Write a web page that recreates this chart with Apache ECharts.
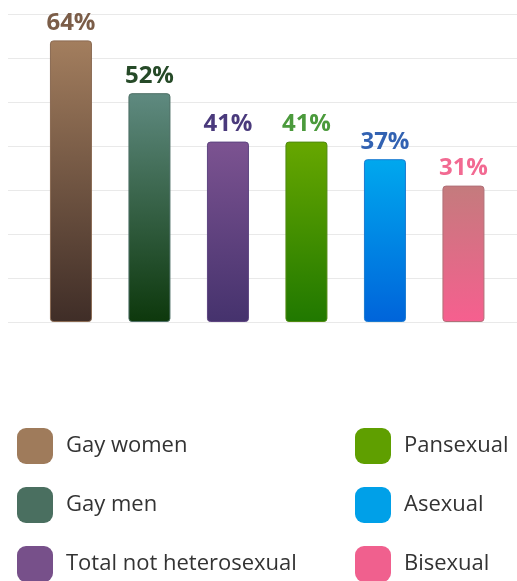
<!DOCTYPE html>
<html>
<head>
<meta charset="utf-8">
<script src="https://cdn.jsdelivr.net/npm/echarts@6/dist/echarts.min.js"></script>
<style>html,body{margin:0;padding:0;background:#fff;}#c{width:517px;height:581px;}</style>
</head>
<body>
<div id="c"></div>
<script>
const categories = ['Gay women', 'Gay men', 'Total not heterosexual', 'Pansexual', 'Asexual', 'Bisexual'];
const values = [64, 52, 41, 41, 37, 31];
const yTicks = [0, 10, 20, 30, 40, 50, 60, 70];

const topColors = ['#a37e5e', '#5f8a80', '#7c5391', '#67a700', '#00a8ee', '#c47b7d'];
const bottomColors = ['#3f2d27', '#0d380c', '#45326d', '#207800', '#0064da', '#f65f8f'];
const borderColors = ['#8a6a52', '#4c6e64', '#5d4480', '#4f8a10', '#1a7ad0', '#b07078'];
const labelColors = ['#7b5d48', '#264a28', '#4a3a7c', '#4b9a3c', '#3262b2', '#f26a92'];
const legendColors = ['#9f7b5b', '#4a6f60', '#77508a', '#5f9f00', '#00a0e8', '#f0608e'];

const font = 'Open Sans';
const chart = echarts.init(document.getElementById('c'));
const yMin = yTicks[0], yMax = yTicks[yTicks.length - 1], yInt = yTicks[1] - yTicks[0];

const series = categories.map((c, i) => ({
  type: 'bar',
  name: c,
  xAxisIndex: 0, yAxisIndex: 0,
  barWidth: 42,
  barGap: '-100%',
  data: categories.map((_, j) => (j === i ? values[i] : null)),
  itemStyle: {
    color: new echarts.graphic.LinearGradient(0, 0, 0, 1, [
      { offset: 0, color: topColors[i] },
      { offset: 1, color: bottomColors[i] }
    ]),
    borderColor: borderColors[i],
    borderWidth: 1,
    borderRadius: 3
  },
  label: { show: true, position: 'top', distance: 5, formatter: '{c}%', fontSize: 24, fontWeight: 'bold', fontFamily: font, color: labelColors[i] }
}));
const legendItems = categories.map((c, i) => ({ name: c, itemStyle: { color: legendColors[i], borderWidth: 0 } }));

const legendBase = {
  orient: 'vertical', top: 428, height: 200, padding: 0,
  icon: 'roundRect', itemWidth: 36, itemHeight: 36, itemGap: 23,
  selectedMode: false,
  textStyle: { fontSize: 22, color: '#333', fontFamily: font, padding: [0, 0, 0, 8] }
};

chart.setOption({
  animation: false,
  backgroundColor: '#fff',
  textStyle: { fontFamily: font },
  grid: [
    { left: 31.7, width: 471, top: 14, height: 308 },
    { left: 8, right: 0, top: 14, height: 308 }
  ],
  xAxis: [
    { type: 'category', data: categories, gridIndex: 0, axisLine: { show: false }, axisTick: { show: false }, axisLabel: { show: false } },
    { type: 'value', gridIndex: 1, show: false }
  ],
  yAxis: [
    { type: 'value', gridIndex: 0, min: yMin, max: yMax, interval: yInt, axisLabel: { show: false }, axisLine: { show: false }, axisTick: { show: false }, splitLine: { show: false } },
    { type: 'value', gridIndex: 1, min: yMin, max: yMax, interval: yInt, axisLabel: { show: false }, axisLine: { show: false }, axisTick: { show: false }, splitLine: { show: true, lineStyle: { color: '#e9e9e9', width: 1 } } }
  ],
  legend: [
    Object.assign({}, legendBase, { data: legendItems.slice(0, 3), left: 17 }),
    Object.assign({}, legendBase, { data: legendItems.slice(3), left: 355 })
  ],
  series: series
});
</script>
</body>
</html>
